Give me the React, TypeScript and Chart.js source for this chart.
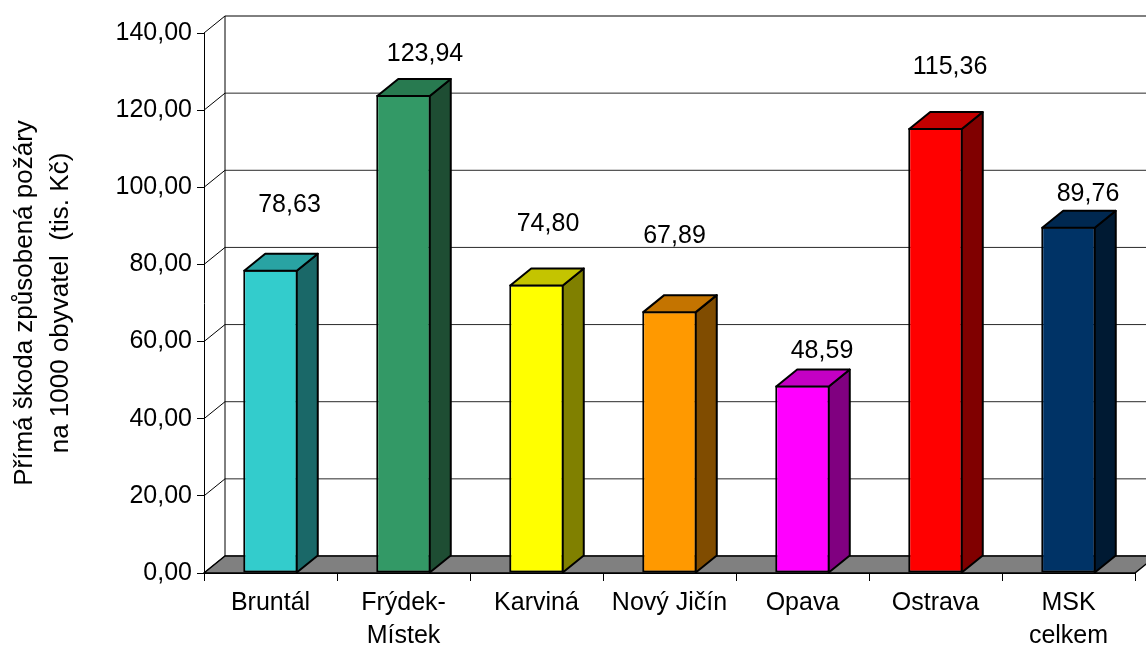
import React, { useEffect, useRef } from "react";
import { Chart, registerables } from "chart.js";

Chart.register(...registerables);

// ---- data ----
const CATEGORIES: string[][] = [
  ["Bruntál"],
  ["Frýdek-", "Místek"],
  ["Karviná"],
  ["Nový Jičín"],
  ["Opava"],
  ["Ostrava"],
  ["MSK", "celkem"],
];
const VALUES: number[] = [78.63, 123.94, 74.8, 67.89, 48.59, 115.36, 89.76];
const Y_MIN = 0;
const Y_MAX = 140;
const Y_STEP = 20;
const AXIS_TITLE: string[] = ["Přímá škoda způsobená požáry", "na 1000 obyvatel  (tis. Kč)"];

// ---- styles / layout ----
const FRONT_COLORS = ["#33CCCC", "#339966", "#FFFF00", "#FF9900", "#FF00FF", "#FF0000", "#003366"];
const TOP_COLORS = ["#29A3A3", "#287A50", "#C4C400", "#C47400", "#C400C4", "#C40000", "#002850"];
const SIDE_COLORS = ["#1A6868", "#1E4D33", "#808000", "#804C00", "#800080", "#800000", "#001A33"];
const LABEL_DX = [19, 21.5, 11.5, 5, 19.5, 14.5, 19.5];
const LABEL_LIFT = [57.4, 34, 53.8, 68.4, 27.9, 54.1, 26.1];
const DEPTH_X = 21;
const DEPTH_Y = -17;
const FONT = "'Liberation Sans', Arial, sans-serif";

const fmt = (v: number) => v.toFixed(2).replace(".", ",");

const threeD = {
  id: "threeD",
  beforeDatasetsDraw(chart: any) {
    const ctx: CanvasRenderingContext2D = chart.ctx;
    const { left, right } = chart.chartArea;
    const ys = chart.scales.y;
    ctx.save();
    ctx.lineWidth = 1;
    // back wall gridlines + side wall diagonals
    for (let v = Y_MIN; v <= Y_MAX; v += Y_STEP) {
      const fy = ys.getPixelForValue(v);
      const by = fy + DEPTH_Y;
      ctx.strokeStyle = v === Y_MAX ? "#000" : "#2a2a2a";
      ctx.beginPath();
      ctx.moveTo(left + DEPTH_X, by);
      ctx.lineTo(right + DEPTH_X, by);
      ctx.stroke();
      ctx.strokeStyle = "#000";
      ctx.beginPath();
      ctx.moveTo(left, fy);
      ctx.lineTo(left + DEPTH_X, by);
      ctx.stroke();
    }
    // back wall vertical edge
    const f0 = ys.getPixelForValue(Y_MIN);
    const fTop = ys.getPixelForValue(Y_MAX);
    ctx.strokeStyle = "#000";
    ctx.beginPath();
    ctx.moveTo(left + DEPTH_X, fTop + DEPTH_Y);
    ctx.lineTo(left + DEPTH_X, f0 + DEPTH_Y);
    ctx.stroke();
    // floor
    ctx.fillStyle = "#808080";
    ctx.beginPath();
    ctx.moveTo(left, f0);
    ctx.lineTo(right, f0);
    ctx.lineTo(right + DEPTH_X, f0 + DEPTH_Y);
    ctx.lineTo(left + DEPTH_X, f0 + DEPTH_Y);
    ctx.closePath();
    ctx.fill();
    ctx.strokeStyle = "#000";
    ctx.lineWidth = 1.5;
    ctx.stroke();
    ctx.restore();
  },
  afterDatasetsDraw(chart: any) {
    const ctx: CanvasRenderingContext2D = chart.ctx;
    const meta = chart.getDatasetMeta(0);
    ctx.save();
    ctx.lineWidth = 2;
    ctx.lineJoin = "round";
    ctx.strokeStyle = "#000";
    meta.data.forEach((bar: any, i: number) => {
      const { x, y, base, width } = bar.getProps(["x", "y", "base", "width"], true);
      const L = x - width / 2 + 1;
      const R = x + width / 2 - 1;
      const T = y + 1;
      const B = base;
      // side face
      ctx.fillStyle = SIDE_COLORS[i];
      ctx.beginPath();
      ctx.moveTo(R, T);
      ctx.lineTo(R + DEPTH_X, T + DEPTH_Y);
      ctx.lineTo(R + DEPTH_X, B + DEPTH_Y);
      ctx.lineTo(R, B);
      ctx.closePath();
      ctx.fill();
      ctx.stroke();
      // top face
      ctx.fillStyle = TOP_COLORS[i];
      ctx.beginPath();
      ctx.moveTo(L, T);
      ctx.lineTo(R, T);
      ctx.lineTo(R + DEPTH_X, T + DEPTH_Y);
      ctx.lineTo(L + DEPTH_X, T + DEPTH_Y);
      ctx.closePath();
      ctx.fill();
      ctx.stroke();
    });
    // value labels
    ctx.fillStyle = "#000";
    ctx.font = `25px ${FONT}`;
    ctx.textAlign = "center";
    ctx.textBaseline = "alphabetic";
    meta.data.forEach((bar: any, i: number) => {
      const { x, y } = bar.getProps(["x", "y"], true);
      ctx.fillText(fmt(VALUES[i]), x + LABEL_DX[i], y - LABEL_LIFT[i]);
    });
    ctx.restore();
  },
};

export default function App() {
  const ref = useRef<HTMLCanvasElement | null>(null);
  useEffect(() => {
    if (!ref.current) return;
    const chart = new Chart(ref.current, {
      type: "bar",
      data: {
        labels: CATEGORIES,
        datasets: [
          {
            data: VALUES,
            backgroundColor: FRONT_COLORS,
            borderColor: "#000",
            borderWidth: 2,
            borderSkipped: false,
            categoryPercentage: 1,
            barPercentage: 0.41,
          },
        ],
      },
      options: {
        animation: false,
        responsive: false,
        maintainAspectRatio: false,
        layout: { padding: { top: 33, right: 11, left: 0, bottom: 0 } },
        plugins: { legend: { display: false }, tooltip: { enabled: false } },
        scales: {
          x: {
            offset: true,
            grid: { offset: true, drawOnChartArea: false, drawTicks: true, tickLength: 8, color: "#000", lineWidth: 1 },
            border: { display: true, color: "#000", width: 1 },
            ticks: {
              color: "#000",
              font: { family: FONT, size: 25, lineHeight: 1.32 },
              padding: 6,
              maxRotation: 0,
              autoSkip: false,
            },
            afterFit: (s: any) => {
              s.height = 73;
            },
          },
          y: {
            min: Y_MIN,
            max: Y_MAX,
            ticks: {
              stepSize: Y_STEP,
              color: "#000",
              font: { family: FONT, size: 25 },
              padding: 5,
              callback: (v: any) => fmt(Number(v)),
            },
            grid: { drawOnChartArea: false, drawTicks: true, tickLength: 7, color: "#000" },
            border: { display: true, color: "#000", width: 1 },
            title: {
              display: true,
              text: AXIS_TITLE,
              color: "#000",
              font: { family: FONT, size: 26, lineHeight: 36 / 26 },
              padding: { top: 7, bottom: 0 },
            },
            afterFit: (s: any) => {
              s.width = 204;
            },
          },
        },
      },
      plugins: [threeD],
    });
    return () => chart.destroy();
  }, []);
  return (
    <div style={{ position: "absolute", left: 0, top: 0, width: 1146, height: 646, background: "#fff" }}>
      <canvas ref={ref} width={1146} height={646} style={{ display: "block" }} />
    </div>
  );
}
